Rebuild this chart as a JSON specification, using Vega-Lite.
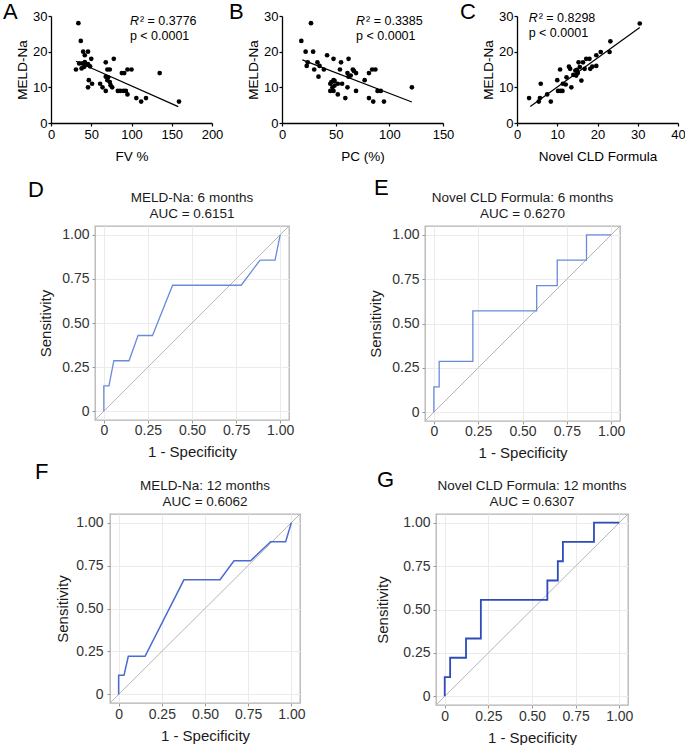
{
  "$schema": "https://vega.github.io/schema/vega-lite/v6.json",
  "padding": {"left": 2, "top": 1, "right": 0, "bottom": 0},
  "background": "white",
  "config": {
    "font": "Liberation Sans",
    "view": {"stroke": null},
    "title": {"font": "Liberation Sans", "fontWeight": "normal", "color": "#000"},
    "axis": {"labelFont": "Liberation Sans", "titleFont": "Liberation Sans", "titleFontWeight": "normal", "labelFlush": false, "labelOverlap": false}
  },
  "datasets": {
    "scatA": [
      {"fv": 34, "meld": 28}, {"fv": 31, "meld": 15}, {"fv": 37, "meld": 23}, {"fv": 40, "meld": 20}, {"fv": 46, "meld": 20},
      {"fv": 42, "meld": 19}, {"fv": 50, "meld": 18}, {"fv": 35, "meld": 16.7}, {"fv": 39, "meld": 16.7}, {"fv": 42, "meld": 17.1},
      {"fv": 43, "meld": 16.2}, {"fv": 46, "meld": 16.5}, {"fv": 41, "meld": 15.7}, {"fv": 48.5, "meld": 15.9}, {"fv": 38, "meld": 15.3},
      {"fv": 47, "meld": 12}, {"fv": 51, "meld": 11}, {"fv": 46, "meld": 10}, {"fv": 61, "meld": 11}, {"fv": 64, "meld": 10},
      {"fv": 68, "meld": 9}, {"fv": 68, "meld": 17}, {"fv": 70, "meld": 15}, {"fv": 73, "meld": 15}, {"fv": 68, "meld": 13},
      {"fv": 71, "meld": 12.8}, {"fv": 70, "meld": 12}, {"fv": 73, "meld": 11.5}, {"fv": 74, "meld": 10.6}, {"fv": 76, "meld": 10},
      {"fv": 78, "meld": 18}, {"fv": 83, "meld": 9}, {"fv": 86, "meld": 9}, {"fv": 88, "meld": 14}, {"fv": 91, "meld": 14},
      {"fv": 90, "meld": 9}, {"fv": 93, "meld": 9}, {"fv": 95, "meld": 8}, {"fv": 95, "meld": 15}, {"fv": 100, "meld": 15},
      {"fv": 106, "meld": 7}, {"fv": 112, "meld": 6}, {"fv": 118, "meld": 7}, {"fv": 135, "meld": 14}, {"fv": 159, "meld": 6}
    ],
    "fitA": [{"fv": 31, "meld": 17.3}, {"fv": 158, "meld": 4.6}],
    "scatB": [
      {"pc": 18, "meld": 23}, {"pc": 27, "meld": 28}, {"pc": 22, "meld": 20}, {"pc": 29, "meld": 20}, {"pc": 24, "meld": 17},
      {"pc": 23, "meld": 16}, {"pc": 30, "meld": 15}, {"pc": 33, "meld": 17}, {"pc": 35, "meld": 16}, {"pc": 34, "meld": 13},
      {"pc": 39, "meld": 15}, {"pc": 42, "meld": 19}, {"pc": 48, "meld": 18}, {"pc": 55, "meld": 17}, {"pc": 54, "meld": 15},
      {"pc": 62, "meld": 18}, {"pc": 61, "meld": 14}, {"pc": 62, "meld": 13}, {"pc": 64, "meld": 13.3}, {"pc": 66, "meld": 15},
      {"pc": 67, "meld": 14.6}, {"pc": 69, "meld": 14}, {"pc": 45, "meld": 11}, {"pc": 46, "meld": 11.5}, {"pc": 48, "meld": 12},
      {"pc": 49, "meld": 11.8}, {"pc": 47, "meld": 10}, {"pc": 49, "meld": 10.5}, {"pc": 52, "meld": 11}, {"pc": 45, "meld": 9},
      {"pc": 48, "meld": 9}, {"pc": 52, "meld": 8}, {"pc": 56, "meld": 11}, {"pc": 59, "meld": 7}, {"pc": 61, "meld": 10},
      {"pc": 69, "meld": 9}, {"pc": 77, "meld": 12}, {"pc": 81, "meld": 14}, {"pc": 84, "meld": 15}, {"pc": 87, "meld": 15},
      {"pc": 81, "meld": 7}, {"pc": 85, "meld": 6}, {"pc": 89, "meld": 9}, {"pc": 92, "meld": 9}, {"pc": 95, "meld": 6},
      {"pc": 121, "meld": 10}
    ],
    "fitB": [{"pc": 19, "meld": 17.7}, {"pc": 121, "meld": 5.9}],
    "scatC": [
      {"cld": 3, "meld": 7}, {"cld": 5.4, "meld": 6}, {"cld": 5.7, "meld": 7}, {"cld": 5.9, "meld": 11}, {"cld": 7.5, "meld": 8},
      {"cld": 8.4, "meld": 6}, {"cld": 10, "meld": 12}, {"cld": 10.7, "meld": 15}, {"cld": 10.2, "meld": 9}, {"cld": 10.8, "meld": 9},
      {"cld": 11.3, "meld": 9}, {"cld": 11.4, "meld": 11}, {"cld": 12.1, "meld": 10.8}, {"cld": 12.3, "meld": 12.8}, {"cld": 12.9, "meld": 15.8},
      {"cld": 13.2, "meld": 15.2}, {"cld": 13.5, "meld": 10}, {"cld": 14, "meld": 13.5}, {"cld": 14.5, "meld": 14.7}, {"cld": 14.9, "meld": 14.9},
      {"cld": 14.7, "meld": 13.3}, {"cld": 15.1, "meld": 14}, {"cld": 15.6, "meld": 15.7}, {"cld": 15.3, "meld": 17}, {"cld": 16, "meld": 11.9},
      {"cld": 16.4, "meld": 17}, {"cld": 17.2, "meld": 18}, {"cld": 18, "meld": 18}, {"cld": 16.8, "meld": 15.2}, {"cld": 18.2, "meld": 15.2},
      {"cld": 18.7, "meld": 15.8}, {"cld": 19.7, "meld": 16}, {"cld": 19.7, "meld": 19}, {"cld": 20.8, "meld": 19.9}, {"cld": 23.2, "meld": 22.9},
      {"cld": 23, "meld": 19.9}, {"cld": 30.5, "meld": 27.9}
    ],
    "fitC": [{"cld": 3.3, "meld": 4.6}, {"cld": 30.5, "meld": 26.8}],
    "rocD": [
      {"i": 0, "fpr": 0, "tpr": 0}, {"i": 1, "fpr": 0, "tpr": 0.143}, {"i": 2, "fpr": 0.029, "tpr": 0.143}, {"i": 3, "fpr": 0.057, "tpr": 0.286},
      {"i": 4, "fpr": 0.143, "tpr": 0.286}, {"i": 5, "fpr": 0.194, "tpr": 0.429}, {"i": 6, "fpr": 0.276, "tpr": 0.429}, {"i": 7, "fpr": 0.39, "tpr": 0.714},
      {"i": 8, "fpr": 0.779, "tpr": 0.714}, {"i": 9, "fpr": 0.886, "tpr": 0.857}, {"i": 10, "fpr": 0.971, "tpr": 0.857}, {"i": 11, "fpr": 1, "tpr": 1}
    ],
    "rocE": [
      {"i": 0, "fpr": 0, "tpr": 0}, {"i": 1, "fpr": 0, "tpr": 0.143}, {"i": 2, "fpr": 0.03, "tpr": 0.143}, {"i": 3, "fpr": 0.03, "tpr": 0.286},
      {"i": 4, "fpr": 0.22, "tpr": 0.286}, {"i": 5, "fpr": 0.22, "tpr": 0.571}, {"i": 6, "fpr": 0.58, "tpr": 0.571}, {"i": 7, "fpr": 0.58, "tpr": 0.714},
      {"i": 8, "fpr": 0.696, "tpr": 0.714}, {"i": 9, "fpr": 0.696, "tpr": 0.857}, {"i": 10, "fpr": 0.861, "tpr": 0.857}, {"i": 11, "fpr": 0.861, "tpr": 1},
      {"i": 12, "fpr": 1, "tpr": 1}
    ],
    "rocF": [
      {"i": 0, "fpr": 0, "tpr": 0}, {"i": 1, "fpr": 0, "tpr": 0.111}, {"i": 2, "fpr": 0.031, "tpr": 0.111}, {"i": 3, "fpr": 0.056, "tpr": 0.222},
      {"i": 4, "fpr": 0.153, "tpr": 0.222}, {"i": 5, "fpr": 0.378, "tpr": 0.667}, {"i": 6, "fpr": 0.587, "tpr": 0.667}, {"i": 7, "fpr": 0.668, "tpr": 0.778},
      {"i": 8, "fpr": 0.764, "tpr": 0.778}, {"i": 9, "fpr": 0.88, "tpr": 0.889}, {"i": 10, "fpr": 0.967, "tpr": 0.889}, {"i": 11, "fpr": 1, "tpr": 1}
    ],
    "rocG": [
      {"i": 0, "fpr": 0, "tpr": 0}, {"i": 1, "fpr": 0, "tpr": 0.111}, {"i": 2, "fpr": 0.031, "tpr": 0.111}, {"i": 3, "fpr": 0.031, "tpr": 0.222},
      {"i": 4, "fpr": 0.122, "tpr": 0.222}, {"i": 5, "fpr": 0.122, "tpr": 0.333}, {"i": 6, "fpr": 0.207, "tpr": 0.333}, {"i": 7, "fpr": 0.207, "tpr": 0.556},
      {"i": 8, "fpr": 0.588, "tpr": 0.556}, {"i": 9, "fpr": 0.588, "tpr": 0.667}, {"i": 10, "fpr": 0.648, "tpr": 0.667}, {"i": 11, "fpr": 0.648, "tpr": 0.778},
      {"i": 12, "fpr": 0.677, "tpr": 0.778}, {"i": 13, "fpr": 0.677, "tpr": 0.889}, {"i": 14, "fpr": 0.855, "tpr": 0.889}, {"i": 15, "fpr": 0.855, "tpr": 1},
      {"i": 16, "fpr": 1, "tpr": 1}
    ]
  },
  "concat": [
    {
      "hconcat": [
        {"width": 1, "height": 1, "data": {"values": []}, "mark": "point"},
        {
          "hconcat": [
            {
              "width": 161, "height": 107,
              "title": {"text": "A", "fontSize": 22, "anchor": "start", "frame": "group", "dx": -48, "offset": -14},
              "layer": [
                {"data": {"name": "scatA"}, "mark": {"type": "circle", "size": 22, "color": "#000", "opacity": 1},
                 "encoding": {
                   "x": {"field": "fv", "type": "quantitative", "scale": {"domain": [0, 200], "nice": false},
                         "axis": {"values": [0, 50, 100, 150, 200], "title": "FV %", "grid": false, "domainColor": "#000", "domainWidth": 1.3, "tickColor": "#000", "tickSize": 3, "tickWidth": 1.2, "labelFontSize": 13, "labelColor": "#000", "labelPadding": 2, "titleFontSize": 13.5, "titleColor": "#000", "titlePadding": 8}},
                   "y": {"field": "meld", "type": "quantitative", "scale": {"domain": [0, 30], "nice": false},
                         "axis": {"values": [0, 10, 20, 30], "title": "MELD-Na", "grid": false, "domainColor": "#000", "domainWidth": 1.3, "tickColor": "#000", "tickSize": 3, "tickWidth": 1.2, "labelFontSize": 13, "labelColor": "#000", "labelPadding": 1, "titleFontSize": 13.5, "titleColor": "#000", "titlePadding": 3}}
                 }},
                {"data": {"name": "fitA"}, "mark": {"type": "line", "color": "#000", "strokeWidth": 1.2},
                 "encoding": {
                   "x": {"field": "fv", "type": "quantitative", "axis": {"values": [0, 50, 100, 150, 200], "title": "FV %", "grid": false, "domainColor": "#000", "domainWidth": 1.3, "tickColor": "#000", "tickSize": 3, "tickWidth": 1.2, "labelFontSize": 13, "labelColor": "#000", "labelPadding": 2, "titleFontSize": 13.5, "titleColor": "#000", "titlePadding": 8}},
                   "y": {"field": "meld", "type": "quantitative", "axis": {"values": [0, 10, 20, 30], "title": "MELD-Na", "grid": false, "domainColor": "#000", "domainWidth": 1.3, "tickColor": "#000", "tickSize": 3, "tickWidth": 1.2, "labelFontSize": 13, "labelColor": "#000", "labelPadding": 1, "titleFontSize": 13.5, "titleColor": "#000", "titlePadding": 3}}
                 }},
                {"data": {"values": [{"t": "R", "u": "² = 0.3776", "p": "p < 0.0001"}]},
                 "encoding": {
                   "x": {"datum": 98, "type": "quantitative", "axis": {"values": [0, 50, 100, 150, 200], "title": "FV %", "grid": false, "domainColor": "#000", "domainWidth": 1.3, "tickColor": "#000", "tickSize": 3, "tickWidth": 1.2, "labelFontSize": 13, "labelColor": "#000", "labelPadding": 2, "titleFontSize": 13.5, "titleColor": "#000", "titlePadding": 8}}
                 },
                 "layer": [
                   {"mark": {"type": "text", "fontSize": 12.5, "fontStyle": "italic", "align": "left", "baseline": "alphabetic", "color": "#000"},
                    "encoding": {"y": {"datum": 27.5, "type": "quantitative", "axis": {"values": [0, 10, 20, 30], "title": "MELD-Na", "grid": false, "domainColor": "#000", "domainWidth": 1.3, "tickColor": "#000", "tickSize": 3, "tickWidth": 1.2, "labelFontSize": 13, "labelColor": "#000", "labelPadding": 1, "titleFontSize": 13.5, "titleColor": "#000", "titlePadding": 3}}, "text": {"field": "t"}}},
                   {"mark": {"type": "text", "fontSize": 12.5, "align": "left", "baseline": "alphabetic", "color": "#000", "dx": 10},
                    "encoding": {"y": {"datum": 27.5, "type": "quantitative", "axis": {"values": [0, 10, 20, 30], "title": "MELD-Na", "grid": false, "domainColor": "#000", "domainWidth": 1.3, "tickColor": "#000", "tickSize": 3, "tickWidth": 1.2, "labelFontSize": 13, "labelColor": "#000", "labelPadding": 1, "titleFontSize": 13.5, "titleColor": "#000", "titlePadding": 3}}, "text": {"field": "u"}}},
                   {"mark": {"type": "text", "fontSize": 12.5, "align": "left", "baseline": "alphabetic", "color": "#000"},
                    "encoding": {"y": {"datum": 23.4, "type": "quantitative", "axis": {"values": [0, 10, 20, 30], "title": "MELD-Na", "grid": false, "domainColor": "#000", "domainWidth": 1.3, "tickColor": "#000", "tickSize": 3, "tickWidth": 1.2, "labelFontSize": 13, "labelColor": "#000", "labelPadding": 1, "titleFontSize": 13.5, "titleColor": "#000", "titlePadding": 3}}, "text": {"field": "p"}}}
                 ]}
              ]
            },
            {
              "width": 161, "height": 107,
              "title": {"text": "B", "fontSize": 22, "anchor": "start", "frame": "group", "dx": -53, "offset": -14},
              "layer": [
                {"data": {"name": "scatB"}, "mark": {"type": "circle", "size": 22, "color": "#000", "opacity": 1},
                 "encoding": {
                   "x": {"field": "pc", "type": "quantitative", "scale": {"domain": [0, 150], "nice": false},
                         "axis": {"values": [0, 50, 100, 150], "title": "PC (%)", "grid": false, "domainColor": "#000", "domainWidth": 1.3, "tickColor": "#000", "tickSize": 3, "tickWidth": 1.2, "labelFontSize": 13, "labelColor": "#000", "labelPadding": 2, "titleFontSize": 13.5, "titleColor": "#000", "titlePadding": 8}},
                   "y": {"field": "meld", "type": "quantitative", "scale": {"domain": [0, 30], "nice": false},
                         "axis": {"values": [0, 10, 20, 30], "title": "MELD-Na", "grid": false, "domainColor": "#000", "domainWidth": 1.3, "tickColor": "#000", "tickSize": 3, "tickWidth": 1.2, "labelFontSize": 13, "labelColor": "#000", "labelPadding": 1, "titleFontSize": 13.5, "titleColor": "#000", "titlePadding": 3}}
                 }},
                {"data": {"name": "fitB"}, "mark": {"type": "line", "color": "#000", "strokeWidth": 1.2},
                 "encoding": {
                   "x": {"field": "pc", "type": "quantitative", "axis": {"values": [0, 50, 100, 150], "title": "PC (%)", "grid": false, "domainColor": "#000", "domainWidth": 1.3, "tickColor": "#000", "tickSize": 3, "tickWidth": 1.2, "labelFontSize": 13, "labelColor": "#000", "labelPadding": 2, "titleFontSize": 13.5, "titleColor": "#000", "titlePadding": 8}},
                   "y": {"field": "meld", "type": "quantitative", "axis": {"values": [0, 10, 20, 30], "title": "MELD-Na", "grid": false, "domainColor": "#000", "domainWidth": 1.3, "tickColor": "#000", "tickSize": 3, "tickWidth": 1.2, "labelFontSize": 13, "labelColor": "#000", "labelPadding": 1, "titleFontSize": 13.5, "titleColor": "#000", "titlePadding": 3}}
                 }},
                {"data": {"values": [{"t": "R", "u": "² = 0.3385", "p": "p < 0.0001"}]},
                 "encoding": {
                   "x": {"datum": 69, "type": "quantitative", "axis": {"values": [0, 50, 100, 150], "title": "PC (%)", "grid": false, "domainColor": "#000", "domainWidth": 1.3, "tickColor": "#000", "tickSize": 3, "tickWidth": 1.2, "labelFontSize": 13, "labelColor": "#000", "labelPadding": 2, "titleFontSize": 13.5, "titleColor": "#000", "titlePadding": 8}}
                 },
                 "layer": [
                   {"mark": {"type": "text", "fontSize": 12.5, "fontStyle": "italic", "align": "left", "baseline": "alphabetic", "color": "#000"},
                    "encoding": {"y": {"datum": 27.5, "type": "quantitative", "axis": {"values": [0, 10, 20, 30], "title": "MELD-Na", "grid": false, "domainColor": "#000", "domainWidth": 1.3, "tickColor": "#000", "tickSize": 3, "tickWidth": 1.2, "labelFontSize": 13, "labelColor": "#000", "labelPadding": 1, "titleFontSize": 13.5, "titleColor": "#000", "titlePadding": 3}}, "text": {"field": "t"}}},
                   {"mark": {"type": "text", "fontSize": 12.5, "align": "left", "baseline": "alphabetic", "color": "#000", "dx": 10},
                    "encoding": {"y": {"datum": 27.5, "type": "quantitative", "axis": {"values": [0, 10, 20, 30], "title": "MELD-Na", "grid": false, "domainColor": "#000", "domainWidth": 1.3, "tickColor": "#000", "tickSize": 3, "tickWidth": 1.2, "labelFontSize": 13, "labelColor": "#000", "labelPadding": 1, "titleFontSize": 13.5, "titleColor": "#000", "titlePadding": 3}}, "text": {"field": "u"}}},
                   {"mark": {"type": "text", "fontSize": 12.5, "align": "left", "baseline": "alphabetic", "color": "#000"},
                    "encoding": {"y": {"datum": 23.4, "type": "quantitative", "axis": {"values": [0, 10, 20, 30], "title": "MELD-Na", "grid": false, "domainColor": "#000", "domainWidth": 1.3, "tickColor": "#000", "tickSize": 3, "tickWidth": 1.2, "labelFontSize": 13, "labelColor": "#000", "labelPadding": 1, "titleFontSize": 13.5, "titleColor": "#000", "titlePadding": 3}}, "text": {"field": "p"}}}
                 ]}
              ]
            },
            {
              "width": 161, "height": 107,
              "title": {"text": "C", "fontSize": 22, "anchor": "start", "frame": "group", "dx": -57, "offset": -14},
              "layer": [
                {"data": {"name": "scatC"}, "mark": {"type": "circle", "size": 22, "color": "#000", "opacity": 1},
                 "encoding": {
                   "x": {"field": "cld", "type": "quantitative", "scale": {"domain": [0, 40], "nice": false},
                         "axis": {"values": [0, 10, 20, 30, 40], "title": "Novel CLD Formula", "grid": false, "domainColor": "#000", "domainWidth": 1.3, "tickColor": "#000", "tickSize": 3, "tickWidth": 1.2, "labelFontSize": 13, "labelColor": "#000", "labelPadding": 2, "titleFontSize": 13.5, "titleColor": "#000", "titlePadding": 8}},
                   "y": {"field": "meld", "type": "quantitative", "scale": {"domain": [0, 30], "nice": false},
                         "axis": {"values": [0, 10, 20, 30], "title": "MELD-Na", "grid": false, "domainColor": "#000", "domainWidth": 1.3, "tickColor": "#000", "tickSize": 3, "tickWidth": 1.2, "labelFontSize": 13, "labelColor": "#000", "labelPadding": 1, "titleFontSize": 13.5, "titleColor": "#000", "titlePadding": 3}}
                 }},
                {"data": {"name": "fitC"}, "mark": {"type": "line", "color": "#000", "strokeWidth": 1.2},
                 "encoding": {
                   "x": {"field": "cld", "type": "quantitative", "axis": {"values": [0, 10, 20, 30, 40], "title": "Novel CLD Formula", "grid": false, "domainColor": "#000", "domainWidth": 1.3, "tickColor": "#000", "tickSize": 3, "tickWidth": 1.2, "labelFontSize": 13, "labelColor": "#000", "labelPadding": 2, "titleFontSize": 13.5, "titleColor": "#000", "titlePadding": 8}},
                   "y": {"field": "meld", "type": "quantitative", "axis": {"values": [0, 10, 20, 30], "title": "MELD-Na", "grid": false, "domainColor": "#000", "domainWidth": 1.3, "tickColor": "#000", "tickSize": 3, "tickWidth": 1.2, "labelFontSize": 13, "labelColor": "#000", "labelPadding": 1, "titleFontSize": 13.5, "titleColor": "#000", "titlePadding": 3}}
                 }},
                {"data": {"values": [{"t": "R", "u": "² = 0.8298", "p": "p < 0.0001"}]},
                 "encoding": {
                   "x": {"datum": 2.9, "type": "quantitative", "axis": {"values": [0, 10, 20, 30, 40], "title": "Novel CLD Formula", "grid": false, "domainColor": "#000", "domainWidth": 1.3, "tickColor": "#000", "tickSize": 3, "tickWidth": 1.2, "labelFontSize": 13, "labelColor": "#000", "labelPadding": 2, "titleFontSize": 13.5, "titleColor": "#000", "titlePadding": 8}}
                 },
                 "layer": [
                   {"mark": {"type": "text", "fontSize": 12.5, "fontStyle": "italic", "align": "left", "baseline": "alphabetic", "color": "#000"},
                    "encoding": {"y": {"datum": 28.3, "type": "quantitative", "axis": {"values": [0, 10, 20, 30], "title": "MELD-Na", "grid": false, "domainColor": "#000", "domainWidth": 1.3, "tickColor": "#000", "tickSize": 3, "tickWidth": 1.2, "labelFontSize": 13, "labelColor": "#000", "labelPadding": 1, "titleFontSize": 13.5, "titleColor": "#000", "titlePadding": 3}}, "text": {"field": "t"}}},
                   {"mark": {"type": "text", "fontSize": 12.5, "align": "left", "baseline": "alphabetic", "color": "#000", "dx": 10},
                    "encoding": {"y": {"datum": 28.3, "type": "quantitative", "axis": {"values": [0, 10, 20, 30], "title": "MELD-Na", "grid": false, "domainColor": "#000", "domainWidth": 1.3, "tickColor": "#000", "tickSize": 3, "tickWidth": 1.2, "labelFontSize": 13, "labelColor": "#000", "labelPadding": 1, "titleFontSize": 13.5, "titleColor": "#000", "titlePadding": 3}}, "text": {"field": "u"}}},
                   {"mark": {"type": "text", "fontSize": 12.5, "align": "left", "baseline": "alphabetic", "color": "#000"},
                    "encoding": {"y": {"datum": 24.2, "type": "quantitative", "axis": {"values": [0, 10, 20, 30], "title": "MELD-Na", "grid": false, "domainColor": "#000", "domainWidth": 1.3, "tickColor": "#000", "tickSize": 3, "tickWidth": 1.2, "labelFontSize": 13, "labelColor": "#000", "labelPadding": 1, "titleFontSize": 13.5, "titleColor": "#000", "titlePadding": 3}}, "text": {"field": "p"}}}
                 ]}
              ]
            }
          ],
          "spacing": 6
        }
      ],
      "spacing": 0
    },
    {
      "concat": [
        {
          "hconcat": [
            {"width": 26, "height": 1, "data": {"values": []}, "mark": "point"},
            {
              "hconcat": [
                {
                  "title": {"text": "D", "fontSize": 22, "anchor": "start", "frame": "bounds", "dx": -10, "offset": -12},
                  "hconcat": [
                    {
                      "width": 194, "height": 194,
                      "view": {"stroke": "#b3b3b3", "strokeWidth": 1.3},
                      "title": {"text": ["MELD-Na: 6 months", "AUC = 0.6151"], "fontSize": 13.5, "lineHeight": 16, "offset": 5, "anchor": "middle", "frame": "group", "color": "#1a1a1a"},
                      "layer": [
                        {"data": {"values": [{}]}, "mark": {"type": "rule", "color": "#b5b5b5", "strokeWidth": 1},
                         "encoding": {"x": {"datum": -0.05}, "y": {"datum": -0.05}, "x2": {"datum": 1.05}, "y2": {"datum": 1.05}}},
                        {"data": {"name": "rocD"}, "mark": {"type": "line", "color": "#6a8bdb", "strokeWidth": 1.3},
                         "encoding": {
                           "x": {"field": "fpr", "type": "quantitative", "scale": {"domain": [-0.05, 1.05], "nice": false, "zero": false},
                                 "axis": {"values": [0, 0.25, 0.5, 0.75, 1], "labelExpr": "datum.value == 0 ? '0' : format(datum.value, '.2f')", "title": "1 - Specificity", "domain": false, "grid": true, "gridColor": "#ebebeb", "tickColor": "#999", "tickSize": 3, "labelFontSize": 14, "labelColor": "#333", "labelPadding": 0, "titleFontSize": 15, "titleColor": "#1a1a1a", "titlePadding": 7}},
                           "y": {"field": "tpr", "type": "quantitative", "scale": {"domain": [-0.05, 1.05], "nice": false, "zero": false},
                                 "axis": {"values": [0, 0.25, 0.5, 0.75, 1], "labelExpr": "datum.value == 0 ? '0' : format(datum.value, '.2f')", "title": "Sensitivity", "domain": false, "grid": true, "gridColor": "#ebebeb", "tickColor": "#999", "tickSize": 3, "labelFontSize": 14, "labelColor": "#333", "labelPadding": 3, "titleFontSize": 15, "titleColor": "#1a1a1a", "titlePadding": 8}},
                           "order": {"field": "i", "type": "quantitative"}
                         }}
                      ]
                    }
                  ]
                },
                {
                  "title": {"text": "E", "fontSize": 22, "anchor": "start", "frame": "bounds", "dx": 6, "offset": -10},
                  "hconcat": [
                    {
                      "width": 195, "height": 195,
                      "view": {"stroke": "#b3b3b3", "strokeWidth": 1.3},
                      "title": {"text": ["Novel CLD Formula: 6 months", "AUC = 0.6270"], "fontSize": 13.5, "lineHeight": 16, "offset": 5, "anchor": "middle", "frame": "group", "color": "#1a1a1a"},
                      "layer": [
                        {"data": {"values": [{}]}, "mark": {"type": "rule", "color": "#b5b5b5", "strokeWidth": 1},
                         "encoding": {"x": {"datum": -0.05}, "y": {"datum": -0.05}, "x2": {"datum": 1.05}, "y2": {"datum": 1.05}}},
                        {"data": {"name": "rocE"}, "mark": {"type": "line", "color": "#6a8bdb", "strokeWidth": 1.3},
                         "encoding": {
                           "x": {"field": "fpr", "type": "quantitative", "scale": {"domain": [-0.05, 1.05], "nice": false, "zero": false},
                                 "axis": {"values": [0, 0.25, 0.5, 0.75, 1], "labelExpr": "datum.value == 0 ? '0' : format(datum.value, '.2f')", "title": "1 - Specificity", "domain": false, "grid": true, "gridColor": "#ebebeb", "tickColor": "#999", "tickSize": 3, "labelFontSize": 14, "labelColor": "#333", "labelPadding": 0, "titleFontSize": 15, "titleColor": "#1a1a1a", "titlePadding": 7}},
                           "y": {"field": "tpr", "type": "quantitative", "scale": {"domain": [-0.05, 1.05], "nice": false, "zero": false},
                                 "axis": {"values": [0, 0.25, 0.5, 0.75, 1], "labelExpr": "datum.value == 0 ? '0' : format(datum.value, '.2f')", "title": "Sensitivity", "domain": false, "grid": true, "gridColor": "#ebebeb", "tickColor": "#999", "tickSize": 3, "labelFontSize": 14, "labelColor": "#333", "labelPadding": 3, "titleFontSize": 15, "titleColor": "#1a1a1a", "titlePadding": 8}},
                           "order": {"field": "i", "type": "quantitative"}
                         }}
                      ]
                    }
                  ]
                }
              ],
              "spacing": 73
            }
          ],
          "spacing": 0
        },
        {
          "hconcat": [
            {"width": 33, "height": 1, "data": {"values": []}, "mark": "point"},
            {
              "hconcat": [
                {
                  "title": {"text": "F", "fontSize": 22, "anchor": "start", "frame": "bounds", "dx": -20, "offset": -6},
                  "hconcat": [
                    {
                      "width": 190, "height": 189,
                      "view": {"stroke": "#b3b3b3", "strokeWidth": 1.3},
                      "title": {"text": ["MELD-Na: 12 months", "AUC = 0.6062"], "fontSize": 13.5, "lineHeight": 16, "offset": 5, "anchor": "middle", "frame": "group", "color": "#1a1a1a"},
                      "layer": [
                        {"data": {"values": [{}]}, "mark": {"type": "rule", "color": "#b5b5b5", "strokeWidth": 1},
                         "encoding": {"x": {"datum": -0.05}, "y": {"datum": -0.05}, "x2": {"datum": 1.05}, "y2": {"datum": 1.05}}},
                        {"data": {"name": "rocF"}, "mark": {"type": "line", "color": "#4a6bd0", "strokeWidth": 1.5},
                         "encoding": {
                           "x": {"field": "fpr", "type": "quantitative", "scale": {"domain": [-0.05, 1.05], "nice": false, "zero": false},
                                 "axis": {"values": [0, 0.25, 0.5, 0.75, 1], "labelExpr": "datum.value == 0 ? '0' : format(datum.value, '.2f')", "title": "1 - Specificity", "domain": false, "grid": true, "gridColor": "#ebebeb", "tickColor": "#999", "tickSize": 3, "labelFontSize": 14, "labelColor": "#333", "labelPadding": 1, "titleFontSize": 15, "titleColor": "#1a1a1a", "titlePadding": 7}},
                           "y": {"field": "tpr", "type": "quantitative", "scale": {"domain": [-0.05, 1.05], "nice": false, "zero": false},
                                 "axis": {"values": [0, 0.25, 0.5, 0.75, 1], "labelExpr": "datum.value == 0 ? '0' : format(datum.value, '.2f')", "title": "Sensitivity", "domain": false, "grid": true, "gridColor": "#ebebeb", "tickColor": "#999", "tickSize": 3, "labelFontSize": 14, "labelColor": "#333", "labelPadding": 4, "titleFontSize": 15, "titleColor": "#1a1a1a", "titlePadding": 5}},
                           "order": {"field": "i", "type": "quantitative"}
                         }}
                      ]
                    }
                  ]
                },
                {
                  "title": {"text": "G", "fontSize": 22, "anchor": "start", "frame": "bounds", "dx": 2, "offset": -14},
                  "hconcat": [
                    {
                      "width": 192, "height": 191,
                      "view": {"stroke": "#b3b3b3", "strokeWidth": 1.3},
                      "title": {"text": ["Novel CLD Formula: 12 months", "AUC = 0.6307"], "fontSize": 13.5, "lineHeight": 16, "offset": 5, "anchor": "middle", "frame": "group", "color": "#1a1a1a"},
                      "layer": [
                        {"data": {"values": [{}]}, "mark": {"type": "rule", "color": "#b5b5b5", "strokeWidth": 1},
                         "encoding": {"x": {"datum": -0.05}, "y": {"datum": -0.05}, "x2": {"datum": 1.05}, "y2": {"datum": 1.05}}},
                        {"data": {"name": "rocG"}, "mark": {"type": "line", "color": "#2e4bb8", "strokeWidth": 1.8},
                         "encoding": {
                           "x": {"field": "fpr", "type": "quantitative", "scale": {"domain": [-0.05, 1.05], "nice": false, "zero": false},
                                 "axis": {"values": [0, 0.25, 0.5, 0.75, 1], "labelExpr": "datum.value == 0 ? '0' : format(datum.value, '.2f')", "title": "1 - Specificity", "domain": false, "grid": true, "gridColor": "#ebebeb", "tickColor": "#999", "tickSize": 3, "labelFontSize": 14, "labelColor": "#333", "labelPadding": 1, "titleFontSize": 15, "titleColor": "#1a1a1a", "titlePadding": 7}},
                           "y": {"field": "tpr", "type": "quantitative", "scale": {"domain": [-0.05, 1.05], "nice": false, "zero": false},
                                 "axis": {"values": [0, 0.25, 0.5, 0.75, 1], "labelExpr": "datum.value == 0 ? '0' : format(datum.value, '.2f')", "title": "Sensitivity", "domain": false, "grid": true, "gridColor": "#ebebeb", "tickColor": "#999", "tickSize": 3, "labelFontSize": 14, "labelColor": "#333", "labelPadding": 3, "titleFontSize": 15, "titleColor": "#1a1a1a", "titlePadding": 12}},
                           "order": {"field": "i", "type": "quantitative"}
                         }}
                      ]
                    }
                  ]
                }
              ],
              "spacing": 69
            }
          ],
          "spacing": 0
        }
      ],
      "columns": 1,
      "align": "none",
      "spacing": 0
    }
  ],
  "columns": 1,
  "align": "none",
  "spacing": 14
}
